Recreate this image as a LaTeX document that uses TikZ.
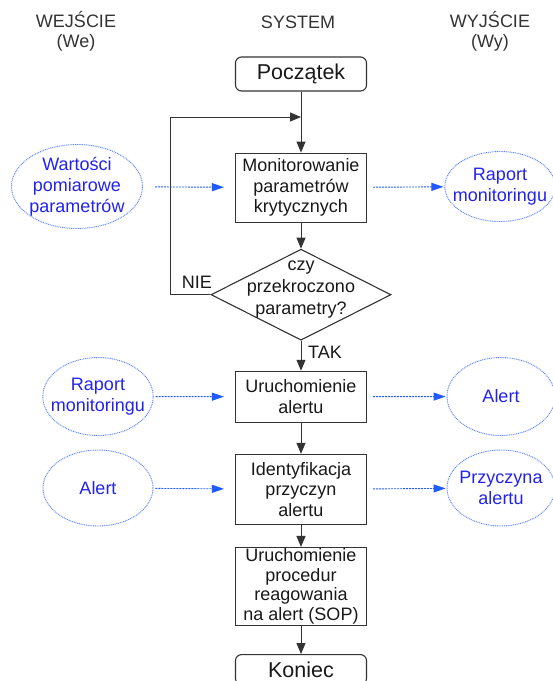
\documentclass[tikz,border=0pt]{standalone}
\usepackage{fontspec}
\setmainfont{Liberation Sans}
\usetikzlibrary{positioning,shapes.geometric,arrows.meta}
\definecolor{flowblue}{HTML}{1F5BFF}
\definecolor{ovalblue}{HTML}{5A86FF}
\definecolor{txtblue}{HTML}{2222EE}
\definecolor{linegray}{HTML}{333333}

\begin{document}
\begin{tikzpicture}[x=1pt, y=-1pt,
    box/.style={rectangle, draw=linegray, line width=1.1pt, fill=white, minimum width=131pt, inner sep=1pt, align=center, text=black!90, font=\fontsize{18}{20.5}\selectfont},
    terminal/.style={box, rounded corners=6pt, minimum height=34pt, font=\fontsize{21.5}{24}\selectfont},
    decision/.style={diamond, draw=linegray, line width=1.1pt, fill=white, minimum width=180pt, minimum height=91pt, inner sep=0pt},
    io/.style={ellipse, draw=ovalblue, dash pattern=on 1pt off 0.8pt, line width=0.9pt, inner xsep=-8pt, inner ysep=0pt, align=center, text=txtblue, font=\fontsize{18}{21}\selectfont},
    head/.style={align=center, text=linegray, font=\fontsize{18}{19.5}\selectfont},
    lbl/.style={text=black!90, inner sep=1pt, font=\fontsize{18}{22}\selectfont},
    flow/.style={-{Triangle[length=11pt, width=9pt]}, draw=linegray, line width=1pt},
    feed/.style={-{Triangle[length=12pt, width=8pt]}, draw=flowblue, dash pattern=on 2pt off 1pt, line width=0.9pt}
]
\useasboundingbox (0,0) rectangle (553,681);

% column headers
\node[head] (hWe) at (76,31.5) {WEJŚCIE\\(We)};
\node[head] (hSys) at (298,22) {SYSTEM};
\node[head] (hWy) at (490,31.5) {WYJŚCIE\\(Wy)};

% system column
\node[terminal] (start) at (301,74) {Początek};
\node[box, below=61pt of start, minimum height=69pt] (mon) {Monitorowanie\\parametrów\\krytycznych};
\node[decision, below=26pt of mon, label={[lbl, align=center, yshift=5pt]center:czy\\przekroczono\\parametry?}] (dec) {};
\node[box, below=30pt of dec, minimum height=51pt] (alarm) {Uruchomienie\\alertu};
\node[box, below=31pt of alarm, minimum height=70pt] (ident) {Identyfikacja\\przyczyn\\alertu};
\node[box, below=22pt of ident, minimum height=78pt, inner sep=0pt, font=\fontsize{18}{19.5}\selectfont] (sop) {Uruchomienie\\procedur\\reagowania\\na alert (SOP)};
\node[terminal, below=28pt of sop, minimum height=30pt] (stop) {Koniec};
\coordinate (merge) at (301,117);

\draw[flow] (start) -- (mon);
\draw[flow] (mon) -- (dec);
\draw[flow] (dec) -- (alarm);
\draw[flow] (dec.west) -- ++(-40,0) |- (merge);
\draw[flow] (alarm) -- (ident);
\draw[flow] (ident) -- (sop);
\draw[flow] (sop) -- (stop);
\node[lbl] (nie) at (197,282) {NIE};
\node[lbl] (tak) at (325,352) {TAK};

% inputs and outputs
\node[io, minimum width=131pt, minimum height=84pt] (inVal) at (77,186.5) {Wartości\\pomiarowe\\parametrów};
\node[io, minimum width=106pt, minimum height=70pt] (outRap) at (500,186.5) {Raport\\monitoringu};
\node[io, minimum width=110pt, minimum height=78pt] (inRap) at (98,396.5) {Raport\\monitoringu};
\node[io, minimum width=108pt, minimum height=78pt] (outAl) at (501,396.5) {Alert};
\node[io, minimum width=110pt, minimum height=76pt] (inAl) at (98,488) {Alert};
\node[io, minimum width=108pt, minimum height=76pt] (outPrz) at (501,488) {Przyczyna\\alertu};

\draw[feed, shorten <=12pt, shorten >=11pt] (inVal) -- (mon);
\draw[feed, shorten <=6pt, shorten >=1pt] (mon) -- (outRap);
\draw[feed, shorten <=2pt, shorten >=11pt] (inRap) -- (alarm);
\draw[feed, shorten <=6pt, shorten >=1pt] (alarm) -- (outAl);
\draw[feed, shorten <=2pt, shorten >=11pt] (inAl) -- (ident);
\draw[feed, shorten <=6pt, shorten >=1pt] (ident) -- (outPrz);

\end{tikzpicture}
\end{document}
